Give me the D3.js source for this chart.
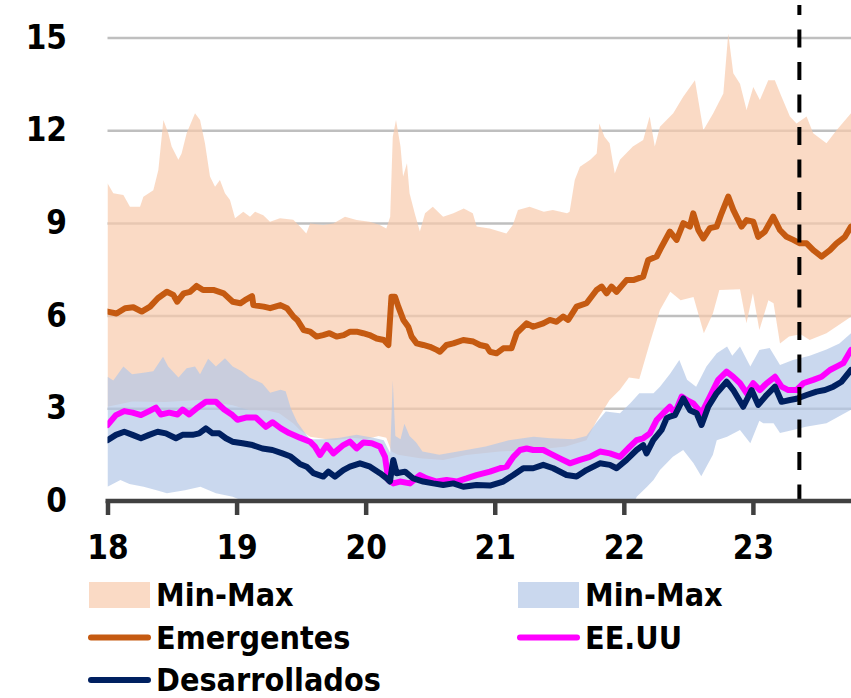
<!DOCTYPE html>
<html>
<head>
<meta charset="utf-8">
<script src="https://cdnjs.cloudflare.com/ajax/libs/d3/7.8.5/d3.min.js"></script>
<style>
  body { margin: 0; background: #fff; }
  svg { display: block; }
  text { font-family: "DejaVu Sans Condensed", "Liberation Sans", sans-serif; font-weight: bold; }
</style>
</head>
<body>
<div id="grafico"></div>
<script>
// Tamaño de la gráfica
const w = 851;
const h = 698;
const fuente = '"DejaVu Sans Condensed", "Liberation Sans", sans-serif';

// Ejes (años abreviados y escala de valores)
const anios = [18, 19, 20, 21, 22, 23];
const ticksY = [0, 3, 6, 9, 12, 15];
const finX = 23.76;
const fechaCorte = 23.36;   // linea vertical discontinua

// Banda Min-Max emergentes: [año, valor]
const emeMax = [[18.0,10.28],[18.045,9.96],[18.123,9.9],[18.174,9.52],[18.252,9.52],[18.278,9.85],[18.355,10.06],[18.394,10.71],[18.433,12.33],[18.471,11.9],[18.497,11.47],[18.549,11.04],[18.574,11.25],[18.613,11.9],[18.678,12.55],[18.717,12.33],[18.755,11.58],[18.794,10.5],[18.833,10.17],[18.871,10.39],[18.91,9.96],[18.949,9.74],[18.988,9.15],[19.052,9.36],[19.104,9.2],[19.143,9.36],[19.207,9.25],[19.259,9.04],[19.336,9.15],[19.439,9.1],[19.491,8.88],[19.54,8.66],[19.57,8.98],[19.67,8.93],[19.75,8.98],[19.84,9.2],[19.93,9.09],[20.03,9.04],[20.11,8.93],[20.16,8.82],[20.19,9.2],[20.21,11.79],[20.235,12.33],[20.27,11.47],[20.29,10.5],[20.32,10.93],[20.34,9.96],[20.38,9.31],[20.42,8.72],[20.46,9.31],[20.52,9.52],[20.6,9.2],[20.68,9.31],[20.76,9.47],[20.83,9.31],[20.86,8.88],[20.96,8.82],[21.09,8.66],[21.14,8.93],[21.18,9.42],[21.27,9.52],[21.38,9.36],[21.45,9.42],[21.56,9.31],[21.58,9.36],[21.62,10.39],[21.66,10.82],[21.74,11.04],[21.79,11.25],[21.81,12.22],[21.85,11.79],[21.89,11.58],[21.93,10.6],[21.97,11.04],[22.07,11.47],[22.15,11.68],[22.2,12.44],[22.24,11.47],[22.28,12.11],[22.383,12.55],[22.46,13.08],[22.551,13.62],[22.616,12.0],[22.693,12.55],[22.771,13.19],[22.809,15.13],[22.848,13.84],[22.9,13.5],[22.951,12.65],[23.003,13.4],[23.054,12.98],[23.119,13.62],[23.17,13.62],[23.222,13.08],[23.287,12.44],[23.338,12.22],[23.416,12.44],[23.467,11.9],[23.57,11.58],[23.648,12.0],[23.76,12.55]];
const emeMin = [[18.0,3.05],[18.19,3.22],[18.45,3.2],[18.71,3.27],[18.97,3.1],[19.1,2.94],[19.23,2.94],[19.33,2.84],[19.44,2.51],[19.49,2.3],[19.57,2.08],[19.75,1.97],[19.9,2.05],[20.0,2.0],[20.1,2.1],[20.16,2.05],[20.2,1.6],[20.25,1.5],[20.42,1.38],[20.6,1.33],[20.78,1.49],[21.04,1.6],[21.3,1.65],[21.55,1.76],[21.71,1.97],[21.79,2.6],[21.89,3.27],[21.97,3.6],[22.04,4.0],[22.12,3.95],[22.2,5.1],[22.28,6.18],[22.36,6.77],[22.44,6.5],[22.54,6.6],[22.62,5.43],[22.69,6.07],[22.74,6.83],[22.9,6.85],[22.95,5.75],[23.0,6.72],[23.05,5.53],[23.12,6.5],[23.16,6.4],[23.21,5.1],[23.28,5.32],[23.37,5.4],[23.44,5.21],[23.57,5.43],[23.76,5.96]];

// Banda Min-Max desarrollados
const desMax = [[18.0,4.02],[18.045,3.9],[18.123,4.35],[18.19,4.1],[18.278,4.15],[18.355,4.2],[18.43,4.67],[18.47,4.35],[18.55,4.0],[18.613,4.3],[18.678,4.35],[18.717,4.1],[18.78,4.6],[18.84,4.35],[18.91,4.62],[18.97,4.35],[19.04,4.2],[19.1,4.0],[19.2,3.8],[19.26,3.5],[19.34,3.6],[19.38,3.55],[19.42,3.0],[19.47,2.55],[19.53,2.2],[19.57,2.0],[19.67,2.0],[19.8,2.05],[19.93,2.14],[20.06,2.05],[20.14,1.97],[20.19,1.55],[20.21,3.9],[20.23,2.1],[20.27,2.0],[20.3,2.5],[20.34,2.1],[20.39,1.9],[20.44,1.6],[20.57,1.5],[20.78,1.65],[20.93,1.76],[21.11,1.97],[21.3,2.08],[21.43,2.03],[21.61,2.0],[21.71,2.1],[21.79,2.55],[21.86,2.9],[21.97,2.84],[22.05,3.16],[22.12,3.49],[22.23,3.49],[22.28,3.7],[22.36,4.13],[22.43,4.56],[22.49,3.92],[22.56,3.7],[22.64,4.35],[22.72,4.78],[22.8,5.0],[22.84,4.7],[22.9,5.0],[22.98,4.35],[23.05,4.89],[23.13,4.95],[23.21,4.4],[23.31,4.56],[23.44,4.7],[23.57,4.9],[23.67,5.1],[23.76,5.43]];
const desMin = [[18.0,0.46],[18.1,0.68],[18.17,0.55],[18.28,0.46],[18.38,0.35],[18.46,0.25],[18.6,0.35],[18.72,0.46],[18.84,0.25],[18.97,0.14],[19.05,0.0],[19.1,-0.3],[22.05,-0.3],[22.1,0.14],[22.18,0.46],[22.23,0.68],[22.28,1.0],[22.38,1.43],[22.46,1.65],[22.54,1.22],[22.6,0.8],[22.69,1.5],[22.72,1.97],[22.8,2.08],[22.9,2.3],[22.98,1.87],[23.05,2.6],[23.08,2.52],[23.16,2.52],[23.21,2.2],[23.31,2.3],[23.41,2.4],[23.57,2.52],[23.76,2.95]];

// Series principales
const emergentes = [[18.0,6.13],[18.07,6.07],[18.136,6.24],[18.2,6.27],[18.265,6.13],[18.33,6.29],[18.39,6.56],[18.46,6.77],[18.51,6.67],[18.54,6.45],[18.59,6.72],[18.64,6.77],[18.69,6.96],[18.74,6.83],[18.82,6.83],[18.9,6.72],[18.97,6.45],[19.03,6.4],[19.065,6.5],[19.12,6.63],[19.13,6.34],[19.21,6.29],[19.26,6.24],[19.34,6.34],[19.39,6.24],[19.44,5.97],[19.47,5.86],[19.52,5.53],[19.57,5.48],[19.62,5.32],[19.67,5.37],[19.72,5.43],[19.775,5.32],[19.83,5.37],[19.88,5.48],[19.93,5.48],[19.98,5.43],[20.03,5.37],[20.085,5.26],[20.14,5.21],[20.176,5.05],[20.2,6.61],[20.227,6.61],[20.253,6.29],[20.292,5.86],[20.33,5.64],[20.356,5.32],[20.395,5.1],[20.446,5.05],[20.498,4.99],[20.55,4.89],[20.576,4.83],[20.627,5.05],[20.679,5.1],[20.756,5.21],[20.834,5.16],[20.886,5.05],[20.937,5.0],[20.963,4.83],[21.014,4.78],[21.066,4.94],[21.13,4.94],[21.17,5.43],[21.247,5.75],[21.298,5.64],[21.376,5.75],[21.427,5.86],[21.479,5.8],[21.53,5.97],[21.569,5.86],[21.634,6.29],[21.711,6.4],[21.789,6.83],[21.828,6.94],[21.866,6.72],[21.905,6.94],[21.944,6.77],[22.021,7.15],[22.073,7.15],[22.15,7.26],[22.189,7.8],[22.254,7.91],[22.293,8.23],[22.357,8.72],[22.409,8.45],[22.461,8.99],[22.512,8.88],[22.538,9.31],[22.577,8.77],[22.616,8.5],[22.667,8.83],[22.719,8.88],[22.757,9.31],[22.809,9.85],[22.848,9.42],[22.912,8.88],[22.951,9.09],[23.003,9.04],[23.041,8.55],[23.093,8.72],[23.157,9.2],[23.209,8.77],[23.261,8.55],[23.313,8.45],[23.364,8.34],[23.416,8.34],[23.468,8.12],[23.532,7.91],[23.597,8.12],[23.648,8.34],[23.713,8.55],[23.76,8.88]];
const eeuu = [[18.0,2.46],[18.065,2.78],[18.13,2.91],[18.194,2.86],[18.259,2.78],[18.323,2.91],[18.375,3.02],[18.413,2.8],[18.478,2.86],[18.543,2.8],[18.581,2.96],[18.633,2.8],[18.697,3.02],[18.762,3.21],[18.84,3.21],[18.904,2.96],[18.968,2.78],[19.007,2.63],[19.072,2.7],[19.149,2.7],[19.227,2.4],[19.278,2.55],[19.343,2.35],[19.407,2.2],[19.49,2.05],[19.569,1.92],[19.607,1.76],[19.646,1.49],[19.698,1.81],[19.75,1.54],[19.827,1.81],[19.878,1.92],[19.93,1.7],[19.982,1.89],[20.047,1.87],[20.111,1.76],[20.15,1.43],[20.176,0.68],[20.214,0.57],[20.266,0.63],[20.343,0.57],[20.421,0.84],[20.472,0.73],[20.55,0.63],[20.627,0.68],[20.705,0.63],[20.782,0.73],[20.859,0.84],[20.963,0.95],[21.04,1.06],[21.092,1.11],[21.144,1.43],[21.196,1.65],[21.247,1.7],[21.298,1.65],[21.376,1.65],[21.427,1.54],[21.504,1.38],[21.582,1.22],[21.66,1.33],[21.737,1.43],[21.815,1.6],[21.892,1.54],[21.97,1.43],[22.047,1.76],[22.099,1.97],[22.15,2.03],[22.202,2.19],[22.254,2.62],[22.305,2.84],[22.357,3.05],[22.396,2.84],[22.448,3.38],[22.486,3.27],[22.538,3.16],[22.602,2.84],[22.667,3.38],[22.731,3.92],[22.796,4.19],[22.848,4.02],[22.9,3.81],[22.951,3.49],[23.003,3.81],[23.054,3.59],[23.106,3.81],[23.171,4.02],[23.222,3.7],[23.274,3.59],[23.338,3.59],[23.39,3.81],[23.468,3.92],[23.532,4.02],[23.597,4.24],[23.648,4.35],[23.7,4.46],[23.76,4.89]];
const desarrollados = [[18.0,1.97],[18.065,2.14],[18.13,2.24],[18.194,2.14],[18.259,2.03],[18.323,2.14],[18.388,2.24],[18.452,2.19],[18.53,2.03],[18.581,2.14],[18.659,2.14],[18.71,2.19],[18.762,2.35],[18.814,2.19],[18.866,2.19],[18.917,2.03],[18.968,1.92],[19.046,1.87],[19.123,1.81],[19.2,1.7],[19.278,1.65],[19.355,1.54],[19.414,1.45],[19.49,1.2],[19.543,1.11],[19.595,0.9],[19.672,0.79],[19.711,0.95],[19.762,0.79],[19.827,1.0],[19.878,1.11],[19.956,1.22],[20.034,1.11],[20.111,0.9],[20.163,0.73],[20.188,0.63],[20.214,1.33],[20.24,0.9],[20.305,0.95],[20.369,0.73],[20.446,0.63],[20.524,0.57],[20.601,0.52],[20.679,0.57],[20.756,0.46],[20.859,0.52],[20.963,0.5],[21.066,0.63],[21.144,0.84],[21.221,1.06],[21.298,1.06],[21.376,1.17],[21.453,1.06],[21.556,0.84],[21.634,0.79],[21.711,1.0],[21.815,1.22],[21.892,1.17],[21.944,1.06],[22.021,1.33],[22.099,1.65],[22.15,1.81],[22.176,1.54],[22.228,1.97],[22.293,2.3],[22.332,2.68],[22.357,2.73],[22.396,2.78],[22.461,3.32],[22.512,2.94],[22.564,2.84],[22.602,2.46],[22.654,3.05],[22.719,3.49],[22.796,3.86],[22.848,3.59],[22.925,3.05],[22.99,3.59],[23.041,3.11],[23.106,3.43],[23.171,3.7],[23.222,3.21],[23.287,3.27],[23.338,3.31],[23.416,3.43],[23.494,3.54],[23.558,3.59],[23.623,3.7],[23.687,3.86],[23.76,4.24]];

// Colores
const colPeach = '#F8CBAD';
const colAzul = '#B4C7E7';
const opBanda = 0.7;

const svg = d3.select('#grafico')
  .append('svg')
  .attr('width', w)
  .attr('height', h);

// Escalas
const xScale = d3.scaleLinear().domain([18, finX]).range([107.5, 851]);
const yScale = d3.scaleLinear().domain([0, 15]).range([501, 37.5]);

const linea = d3.line()
  .x((d) => xScale(d[0]))
  .y((d) => yScale(d[1]));

// Area de recorte
svg.append('clipPath').attr('id', 'recorte')
  .append('rect')
  .attr('x', xScale(18)).attr('y', 0)
  .attr('width', xScale(finX) - xScale(18))
  .attr('height', yScale(0));

// Lineas de cuadricula
svg.append('g')
  .attr('transform', 'translate(' + xScale(18) + ',0)')
  .call(d3.axisLeft(yScale).tickValues(ticksY.slice(1)).tickSize(-(xScale(finX) - xScale(18))).tickFormat(''))
  .call((g) => g.select('.domain').remove())
  .call((g) => g.selectAll('line').attr('stroke', '#BFBFBF').attr('stroke-width', 2.5));

const plot = svg.append('g').attr('clip-path', 'url(#recorte)');

// Bandas Min-Max
function banda(maxArr, minArr) {
  return linea(maxArr.concat(minArr.slice().reverse())) + 'Z';
}

plot.append('path')
  .attr('d', banda(emeMax, emeMin))
  .attr('fill', colPeach)
  .attr('fill-opacity', opBanda);

plot.append('path')
  .attr('d', banda(desMax, desMin))
  .attr('fill', colAzul)
  .attr('fill-opacity', opBanda);

// Series
[[emergentes, '#C55A11'], [eeuu, '#FF00FF'], [desarrollados, '#002060']].forEach(function (s) {
  plot.append('path')
    .datum(s[0])
    .attr('d', linea)
    .attr('fill', 'none')
    .attr('stroke', s[1])
    .attr('stroke-width', 6)
    .attr('stroke-linejoin', 'round')
    .attr('stroke-linecap', 'round');
});

// Linea vertical discontinua
svg.append('line')
  .attr('x1', xScale(fechaCorte)).attr('x2', xScale(fechaCorte))
  .attr('y1', 5).attr('y2', yScale(0))
  .attr('stroke', '#000')
  .attr('stroke-width', 4)
  .attr('stroke-dasharray', '18,14.5')
  .attr('stroke-dashoffset', 8);

// Eje X
const ejeX = svg.append('g')
  .attr('transform', 'translate(0,' + yScale(0) + ')')
  .call(d3.axisBottom(xScale).tickValues(anios).tickSize(14).tickSizeOuter(0).tickPadding(21).tickFormat(d3.format('d')));
ejeX.select('.domain').attr('stroke', '#404040').attr('stroke-width', 4.5).attr('d', 'M' + (xScale(18) - 2) + ',0H' + xScale(finX));
ejeX.selectAll('line').attr('stroke', '#404040').attr('stroke-width', 4.5);
ejeX.selectAll('text').style('font-size', '33px').attr('fill', '#000')
  .style('font-family', fuente).style('font-weight', 'bold');

// Eje Y (etiquetas)
const ejeY = svg.append('g')
  .attr('transform', 'translate(67,0)')
  .call(d3.axisLeft(yScale).tickValues(ticksY).tickSize(0).tickPadding(0));
ejeY.select('.domain').remove();
ejeY.selectAll('text').style('font-size', '33px').attr('fill', '#000')
  .style('font-family', fuente).style('font-weight', 'bold');

// Leyenda
const leyenda = [
  { tipo: 'banda', color: colPeach, texto: 'Min-Max', col: 0, fila: 0 },
  { tipo: 'banda', color: colAzul, texto: 'Min-Max', col: 1, fila: 0 },
  { tipo: 'linea', color: '#C55A11', texto: 'Emergentes', col: 0, fila: 1 },
  { tipo: 'linea', color: '#FF00FF', texto: 'EE.UU', col: 1, fila: 1 },
  { tipo: 'linea', color: '#002060', texto: 'Desarrollados', col: 0, fila: 2 }
];

leyenda.forEach(function (d) {
  const x0 = d.col === 0 ? 89 : 518;
  const yc = 595 + d.fila * 42.5;
  if (d.tipo === 'banda') {
    svg.append('rect')
      .attr('x', x0).attr('y', yc - 13)
      .attr('width', 61).attr('height', 26)
      .attr('fill', d.color).attr('fill-opacity', opBanda);
  } else {
    svg.append('line')
      .attr('x1', x0 + 2).attr('x2', x0 + 59)
      .attr('y1', yc).attr('y2', yc)
      .attr('stroke', d.color).attr('stroke-width', 6)
      .attr('stroke-linecap', 'round');
  }
  svg.append('text')
    .attr('x', x0 + 67)
    .attr('y', yc + 11)
    .style('font-size', '32px')
    .text(d.texto);
});
</script>
</body>
</html>
